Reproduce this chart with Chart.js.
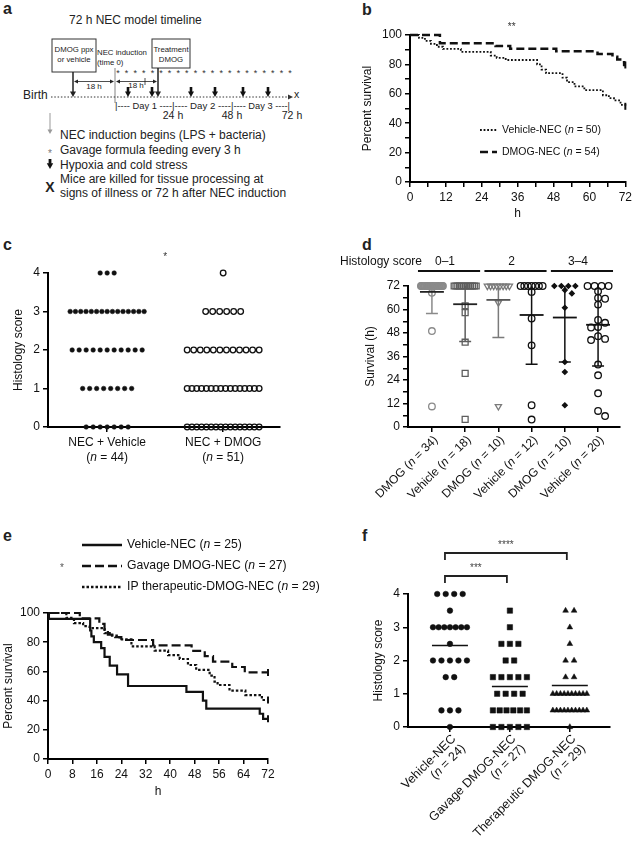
<!DOCTYPE html>
<html>
<head>
<meta charset="utf-8">
<script src="https://cdn.jsdelivr.net/npm/chart.js@4.4.1/dist/chart.umd.min.js"></script>
<style>
  body { margin: 0; background: #fff; width: 635px; height: 850px; position: relative; overflow: hidden; }
  canvas, svg { position: absolute; }
</style>
</head>
<body>
<svg id="art" width="635" height="850" style="left:0;top:0" font-family="Liberation Sans, Arial, sans-serif"></svg>
<script>
// ---- data ----
// b: Kaplan-Meier, time (h) and percent survival
const bVehT = [0, 3, 5, 7, 9, 11, 17, 27, 29, 32, 42.5, 44, 45.5, 51, 52.5, 55, 58.3, 64.5, 66.5, 68.2, 70.4, 72];
const bVehS = [100, 98, 96, 94, 92, 90.5, 88.5, 86, 84.5, 83, 80, 76.5, 74, 71, 68, 65, 62.5, 59, 57, 55.5, 52.5, 51.5];
const bDmogT = [0, 10, 28.6, 33.5, 48.9, 62.7, 67.7, 69.3, 71, 71.6, 72];
const bDmogS = [100, 94.4, 92.6, 90.7, 88.9, 87, 85.2, 83.3, 81.5, 79.6, 79.6];
const bLabels = ["Vehicle-NEC", "DMOG-NEC"];
const bN = [50, 54];

// c: number of pups per histology score (0..4)
const cScores = [0, 1, 2, 3, 4];
const cVehicleCounts = [7, 8, 11, 15, 3];
const cDmogCounts = [16, 16, 12, 6, 1];
const cLabels = ["NEC + Vehicle", "NEC + DMOG"];
const cN = [44, 51];

// d: survival (h) by histology score group
const dGroups = ["DMOG", "Vehicle", "DMOG", "Vehicle", "DMOG", "Vehicle"];
const dN = [34, 18, 10, 12, 10, 20];
const dAt72 = [31, 13, 8, 7, 4, 4];
const dOther = [
  [68.5, 49, 10.5],
  [61.9, 58.4, 43.3, 27.4, 3.9],
  [63.5, 10.5],
  [69, 55.4, 41.7, 11.1, 3.8],
  [69.9, 68.2, 60.9, 33.2, 28.1, 11.1],
  [69.3, 65.9, 65.5, 62.5, 54.7, 53.2, 51.1, 50.8, 46.4, 45.0, 44.4, 31.9, 26.4, 17.2, 8.2, 5.6]
];
const dMean = [69, 62.7, 64.9, 57.2, 55.9, 52.2];
const dSd = [11, 19, 19.2, 25.2, 22.7, 21];
const dScoreGroups = ["0\u20131", "2", "3\u20134"];

// e: Kaplan-Meier
const eVehT = [0, 0.3, 13.8, 14.2, 15, 17.4, 18.5, 20.2, 22.6, 26.2, 45.3, 50.7, 51.8, 69.3, 70.4, 72];
const eVehS = [100, 96, 88, 84, 80, 76, 70, 64, 58, 50, 46, 40, 34.5, 31, 27.5, 27.5];
const eGavT = [0, 10.4, 16.8, 18.5, 19.6, 22, 24, 34.4, 47, 51.3, 54, 60.3, 64.4, 72];
const eGavS = [100, 96.3, 92.6, 88.9, 85.2, 83.5, 81.5, 77.8, 74.1, 70.4, 66.7, 63, 59.3, 59.3];
const eIpT = [0, 6, 8.5, 11.5, 13.6, 18.5, 20.2, 23.4, 27.3, 34.9, 39.3, 43.1, 45.8, 48.5, 52.9, 54.5, 55.5, 59.4, 64.6, 70, 72];
const eIpS = [100, 96.6, 93.1, 91, 89.7, 86.2, 84.5, 82, 77.2, 74.2, 71.2, 68.5, 64.4, 61, 57.1, 53, 50.7, 46.8, 43.8, 40.4, 40.4];
const eLabels = ["Vehicle-NEC", "Gavage DMOG-NEC", "IP therapeutic-DMOG-NEC"];
const eN = [25, 27, 29];

// f: counts per histology score (0..4 by 0.5)
const fScores = [0, 0.5, 1, 1.5, 2, 2.5, 3, 3.5, 4];
const fVehicleCounts = [1, 3, 0, 2, 5, 1, 7, 1, 4];
const fGavageCounts = [5, 6, 4, 5, 2, 3, 1, 1, 0];
const fTherapCounts = [1, 10, 10, 2, 2, 1, 1, 2, 0];
const fMean = [2.45, 1.22, 1.25];
const fLabels = ["Vehicle-NEC", "Gavage DMOG-NEC", "Therapeutic DMOG-NEC"];
const fN = [24, 27, 29];

// ---- helpers ----
const FONT = '"Liberation Sans", Arial, sans-serif';
Chart.defaults.font.family = FONT;
Chart.defaults.font.size = 12;
Chart.defaults.color = "#111";
Chart.defaults.animation = false;
Chart.defaults.events = [];
Chart.defaults.plugins.legend.display = false;
Chart.defaults.plugins.tooltip.enabled = false;

function makeCanvas(cv) {
  const c = document.createElement("canvas");
  c.width = cv.w; c.height = cv.h;
  c.style.left = cv.x + "px"; c.style.top = cv.y + "px";
  c.style.width = cv.w + "px"; c.style.height = cv.h + "px";
  document.body.appendChild(c);
  return c;
}

function layout(cv, plot, yW, xH) {
  return {
    autoPadding: false,
    padding: { left: plot.l - cv.x - yW, top: plot.t - cv.y, right: cv.x + cv.w - plot.r, bottom: cv.y + cv.h - plot.b - xH }
  };
}

function axis(o) {
  const s = {
    type: "linear", min: o.min, max: o.max,
    border: { color: "#000", width: 2 },
    grid: { drawOnChartArea: false, color: "#000", lineWidth: 1.5, tickLength: 5 },
    ticks: { color: "#111", font: { size: 12 }, padding: 3, stepSize: o.step, autoSkip: false, maxRotation: 0,
      callback: o.label || (v => v) },
    afterFit: o.w ? (sc => { sc.width = o.w; }) : (sc => { sc.height = o.h; })
  };
  if (o.title) s.title = { display: true, text: o.title, color: "#111", font: { size: 12 }, padding: 0 };
  if (o.at) s.afterBuildTicks = sc => { sc.ticks = o.at.map(v => ({ value: v })); };
  return s;
}

// parts alternate normal / italic
function rich(ctx, parts, x, y, size, align) {
  const fonts = parts.map((p, i) => (i % 2 ? "italic " : "") + size + "px " + FONT);
  let w = 0;
  const ws = parts.map((p, i) => { ctx.font = fonts[i]; const m = ctx.measureText(p).width; w += m; return m; });
  let cx = align === "center" ? x - w / 2 : align === "right" ? x - w : x;
  ctx.textAlign = "left";
  parts.forEach((p, i) => { ctx.font = fonts[i]; ctx.fillText(p, cx, y); cx += ws[i]; });
}

function expand(scores, counts) {
  let out = [];
  scores.forEach((s, i) => { for (let k = 0; k < counts[i]; k++) out.push(s); });
  return out;
}

// simple beeswarm: equal values in a row, singles nudged sideways when they collide
function swarm(vals, center, pxX, pxY, gap, maxW) {
  const pts = [];
  const counts = {};
  vals.forEach(v => { counts[v] = (counts[v] || 0) + 1; });
  const singles = [];
  Object.keys(counts).forEach(k => {
    const n = counts[k], v = +k;
    if (n === 1) { singles.push(v); return; }
    const step = Math.min(gap, maxW / (n - 1));
    for (let i = 0; i < n; i++) pts.push({ x: center + (i - (n - 1) / 2) * step / pxX, y: v });
  });
  singles.sort((a, b) => b - a).forEach(v => {
    const cands = [0, 0.5, -0.5, 1, -1, 1.5, -1.5];
    for (const c of cands) {
      const x = center + c * gap / pxX;
      const hit = pts.some(p => Math.hypot((p.x - x) * pxX, (p.y - v) * pxY) < gap * 0.9);
      if (!hit) { pts.push({ x, y: v }); return; }
    }
    pts.push({ x: center, y: v });
  });
  return pts;
}

function kmSet(ts, ss, dash, width) {
  const last = ts.length - 1;
  return {
    type: "line", data: ts.map((t, i) => ({ x: t, y: ss[i] })), stepped: true,
    borderColor: "#111", borderWidth: width, borderDash: dash, borderCapStyle: "butt", fill: false,
    pointRadius: c => (c.dataIndex === last ? 3.5 : 0), pointStyle: "line", rotation: 90,
    pointBorderColor: "#111", pointBorderWidth: 2, clip: false
  };
}

// ---- panel a (timeline drawing) and panel letters ----
const NS = "http://www.w3.org/2000/svg";
const art = document.getElementById("art");
function el(tag, attrs, text) {
  const e = document.createElementNS(NS, tag);
  for (const k in attrs) e.setAttribute(k, attrs[k]);
  if (text != null) e.textContent = text;
  art.appendChild(e);
  return e;
}
const T = (x, y, s, txt, o) => el("text", Object.assign({ x, y, "font-size": s, fill: "#222" }, o || {}), txt);
const L = (x1, y1, x2, y2, o) => el("line", Object.assign({ x1, y1, x2, y2, stroke: "#222", "stroke-width": 1 }, o || {}));
function down(x, y1, y2, col, w, hw) {
  L(x, y1, x, y2 - hw * 1.6, { stroke: col, "stroke-width": w });
  el("polygon", { points: `${x - hw},${y2 - hw * 1.8} ${x + hw},${y2 - hw * 1.8} ${x},${y2}`, fill: col });
}
function harrow(x1, x2, y) {
  L(x1 + 2, y, x2 - 2, y, { "stroke-width": 0.8 });
  el("polygon", { points: `${x1},${y} ${x1 + 4},${y - 2} ${x1 + 4},${y + 2}`, fill: "#222" });
  el("polygon", { points: `${x2},${y} ${x2 - 4},${y - 2} ${x2 - 4},${y + 2}`, fill: "#222" });
}
const mid = { "text-anchor": "middle" };
const bold = { "font-weight": "bold" };

T(3, 14, 16, "a", bold);
T(69, 24, 12, "72 h NEC model timeline");
el("rect", { x: 52, y: 39, width: 44, height: 33, fill: "none", stroke: "#333", "stroke-width": 1 });
T(74, 52, 7.8, "DMOG ppx", mid);
T(74, 61.5, 7.8, "or vehicle", mid);
T(97, 55, 7.8, "NEC induction");
T(97, 64.5, 7.8, "(time 0)");
el("rect", { x: 152, y: 39, width: 38, height: 29, fill: "none", stroke: "#333", "stroke-width": 1 });
T(171, 51.5, 7.8, "Treatment", mid);
T(171, 62, 7.8, "DMOG", mid);
down(73, 72, 97, "#222", 1.5, 3);
down(158, 68, 97, "#222", 1.5, 3);
for (let i = 0; i < 21; i++) T(118 + i * 8.6, 76, 9, "*", Object.assign({ fill: "#333" }, mid));
L(115, 68, 115, 103, { stroke: "#666", "stroke-width": 0.8 });
harrow(74, 114, 81.5);
T(94, 89, 8, "18 h", mid);
harrow(116, 157, 81.5);
T(136, 88, 8, "18 h", mid);
L(145, 78, 145, 85, { "stroke-width": 0.8 });
T(23, 99, 12, "Birth");
L(51, 97, 289, 97, { "stroke-dasharray": "1.5 1.8", stroke: "#333" });
el("polygon", { points: "288,94.5 293,97 288,99.5", fill: "#333" });
T(294, 98, 10.5, "x");
[128, 152, 191, 215, 243, 268].forEach(x => down(x, 87, 97, "#111", 2.6, 3));
T(115, 109, 9.5, "|---- Day 1 ----", { textLength: 57, lengthAdjust: "spacingAndGlyphs" });
T(172, 109, 9.5, "|---- Day 2 ----", { textLength: 59, lengthAdjust: "spacingAndGlyphs" });
T(231, 109, 9.5, "|---- Day 3 ----|", { textLength: 59, lengthAdjust: "spacingAndGlyphs" });
T(173, 119, 10.5, "24 h", mid);
T(232, 119, 10.5, "48 h", mid);
T(292, 119, 10.5, "72 h", mid);
down(50, 113, 134, "#999", 1, 2.5);
T(60, 139, 12, "NEC induction begins (LPS + bacteria)");
T(50, 157, 10, "*", Object.assign({ fill: "#777" }, mid));
T(60, 154, 12, "Gavage formula feeding every 3 h");
down(50, 159, 169, "#111", 2.8, 3.2);
T(60, 168.5, 12, "Hypoxia and cold stress");
T(50, 192, 14, "X", Object.assign({}, bold, mid));
T(60, 182.5, 12, "Mice are killed for tissue processing at");
T(60, 197, 12, "signs of illness or 72 h after NEC induction");

T(362, 15, 16, "b", bold);
T(3, 250, 16, "c", bold);
T(362, 250, 16, "d", bold);
T(3, 541, 16, "e", bold);
T(362, 541, 16, "f", bold);

// ---- panel b ----
{
  const cv = { x: 320, y: 15, w: 315, h: 212 };
  const plot = { l: 410, t: 35, r: 627, b: 182 };
  const extras = {
    id: "bExtras",
    afterDraw(chart) {
      const { ctx, scales: { x }, chartArea: a } = chart;
      ctx.save();
      ctx.fillStyle = "#333"; ctx.textBaseline = "middle";
      ctx.font = "10px " + FONT; ctx.textAlign = "center";
      ctx.fillText("**", x.getPixelForValue(34), a.top - 8);
      chart.data.datasets.forEach((ds, i) => {
        const ly = a.top + 95 + i * 22;
        ctx.strokeStyle = "#111"; ctx.lineWidth = ds.borderWidth; ctx.setLineDash(ds.borderDash);
        ctx.beginPath(); ctx.moveTo(a.left + 70, ly); ctx.lineTo(a.left + 87, ly); ctx.stroke();
        ctx.fillStyle = "#111";
        rich(ctx, [bLabels[i] + " (", "n", " = " + bN[i] + ")"], a.left + 92, ly, 10.5, "left");
      });
      ctx.restore();
    }
  };
  new Chart(makeCanvas(cv), {
    type: "line",
    data: { datasets: [kmSet(bVehT, bVehS, [1.8, 1.8], 1.8), kmSet(bDmogT, bDmogS, [8, 4], 2.5)] },
    options: {
      responsive: false, devicePixelRatio: 1,
      layout: layout(cv, plot, 50, 39),
      scales: {
        x: axis({ min: 0, max: 72, step: 6, h: 39, title: "h", label: v => (v % 12 === 0 ? v : "") }),
        y: axis({ min: 0, max: 100, step: 10, w: 50, title: "Percent survival", label: v => (v % 20 === 0 ? v : "") })
      }
    },
    plugins: [extras]
  });
}

// ---- panel c ----
{
  const cv = { x: 0, y: 230, w: 320, h: 240 };
  const plot = { l: 48, t: 273, r: 280, b: 427 };
  const extras = {
    id: "cExtras",
    afterDraw(chart) {
      const { ctx, scales: { x }, chartArea: a } = chart;
      ctx.save();
      ctx.fillStyle = "#333"; ctx.textBaseline = "middle"; ctx.textAlign = "center";
      ctx.font = "10px " + FONT;
      ctx.fillText("*", x.getPixelForValue(1.5), a.top - 16);
      ctx.fillStyle = "#111";
      cLabels.forEach((lab, i) => {
        const px = x.getPixelForValue(i + 1);
        rich(ctx, [lab], px, a.bottom + 16, 12, "center");
        rich(ctx, ["(", "n", " = " + cN[i] + ")"], px, a.bottom + 31, 12, "center");
      });
      ctx.restore();
    }
  };
  new Chart(makeCanvas(cv), {
    type: "scatter",
    data: {
      datasets: [
        { data: swarm(expand(cScores, cVehicleCounts), 1, 116, 38.5, 7, 74), pointRadius: 2.3,
          backgroundColor: "#111", borderColor: "#111", borderWidth: 0.5, clip: false },
        { data: swarm(expand(cScores, cDmogCounts), 2, 116, 38.5, 7, 72), pointRadius: 2.8,
          backgroundColor: "rgba(0,0,0,0)", borderColor: "#111", borderWidth: 1.3, clip: false }
      ]
    },
    options: {
      responsive: false, devicePixelRatio: 1,
      layout: layout(cv, plot, 37, 40),
      scales: {
        x: axis({ min: 0.49, max: 2.49, h: 40, at: [1, 2], label: () => "" }),
        y: axis({ min: 0, max: 4, step: 1, w: 37, title: "Histology score" })
      }
    },
    plugins: [extras]
  });
}

// ---- panel d ----
{
  const cv = { x: 320, y: 230, w: 315, h: 282 };
  const plot = { l: 408, t: 286, r: 620, b: 427 };
  const cols = ["#8a8a8a", "#5e5e5e", "#7a7a7a", "#111", "#111", "#111"];
  const meanCols = ["#222", "#222", "#555", "#111", "#111", "#111"];
  const styles = ["circle", "rect", "triangle", "circle", "rectRot", "circle"];
  const radii = [3.3, 4.2, 3.6, 3.3, 2.4, 3.3];
  const filled = [false, false, false, false, true, false];
  const extras = {
    id: "dExtras",
    afterDatasetsDraw(chart) {
      const { ctx, scales: { x, y } } = chart;
      ctx.save();
      dMean.forEach((m, i) => {
        const cx = x.getPixelForValue(i);
        const lo = y.getPixelForValue(m - dSd[i]);
        const hi = y.getPixelForValue(Math.min(72, m + dSd[i]));
        const cap = x.getPixelForValue(i + 0.18) - cx;
        const half = x.getPixelForValue(i + 0.36) - cx;
        ctx.strokeStyle = cols[i]; ctx.lineWidth = 1.5;
        ctx.beginPath();
        ctx.moveTo(cx, lo); ctx.lineTo(cx, hi);
        ctx.moveTo(cx - cap, lo); ctx.lineTo(cx + cap, lo);
        ctx.stroke();
        ctx.strokeStyle = meanCols[i]; ctx.lineWidth = 1.8;
        const py = y.getPixelForValue(m);
        ctx.beginPath(); ctx.moveTo(cx - half, py); ctx.lineTo(cx + half, py); ctx.stroke();
      });
      ctx.restore();
    },
    afterDraw(chart) {
      const { ctx, scales: { x }, chartArea: a } = chart;
      ctx.save();
      ctx.fillStyle = "#111"; ctx.textBaseline = "middle";
      rich(ctx, ["Histology score"], 20, a.top - 24, 12, "left");
      dScoreGroups.forEach((g, k) => {
        const x0 = x.getPixelForValue(2 * k - 0.42), x1 = x.getPixelForValue(2 * k + 1.45);
        ctx.strokeStyle = "#111"; ctx.lineWidth = 2;
        ctx.beginPath(); ctx.moveTo(x0, a.top - 15); ctx.lineTo(x1, a.top - 15); ctx.stroke();
        rich(ctx, [g], (x0 + x1) / 2 - 4, a.top - 24, 12, "center");
      });
      dGroups.forEach((g, i) => {
        ctx.save();
        ctx.translate(x.getPixelForValue(i) + 4, a.bottom + 11);
        ctx.rotate(-Math.PI / 4);
        rich(ctx, [g + " (", "n", " = " + dN[i] + ")"], 0, 0, 12, "right");
        ctx.restore();
      });
      ctx.restore();
    }
  };
  new Chart(makeCanvas(cv), {
    type: "scatter",
    data: {
      datasets: dGroups.map((g, i) => ({
        data: swarm(Array(dAt72[i]).fill(72).concat(dOther[i]), i, 33.2, 1.958, 7, 22),
        pointStyle: styles[i], pointRadius: radii[i], rotation: styles[i] === "triangle" ? 180 : 0,
        borderColor: cols[i], backgroundColor: filled[i] ? cols[i] : "rgba(0,0,0,0)",
        borderWidth: 1.3, clip: false
      }))
    },
    options: {
      responsive: false, devicePixelRatio: 1,
      layout: layout(cv, plot, 45, 80),
      scales: {
        x: axis({ min: -0.72, max: 5.66, h: 80, at: [0, 1, 2, 3, 4, 5], label: () => "" }),
        y: axis({ min: 0, max: 72, step: 6, w: 45, title: "Survival (h)", label: v => (v % 12 === 0 ? v : "") })
      }
    },
    plugins: [extras]
  });
}

// ---- panel e ----
{
  const cv = { x: 0, y: 525, w: 330, h: 280 };
  const plot = { l: 48, t: 613, r: 268, b: 759 };
  const extras = {
    id: "eExtras",
    afterDraw(chart) {
      const { ctx, chartArea: a } = chart;
      ctx.save();
      ctx.textBaseline = "middle";
      ctx.fillStyle = "#555"; ctx.textAlign = "center"; ctx.font = "10px " + FONT;
      ctx.fillText("*", a.left + 14, a.top - 45);
      chart.data.datasets.forEach((ds, i) => {
        const ly = a.top - 68 + i * 21;
        ctx.strokeStyle = "#111"; ctx.lineWidth = 2.4; ctx.setLineDash(ds.borderDash);
        ctx.beginPath(); ctx.moveTo(a.left + 34, ly); ctx.lineTo(a.left + 74, ly); ctx.stroke();
        ctx.fillStyle = "#111";
        rich(ctx, [eLabels[i] + " (", "n", " = " + eN[i] + ")"], a.left + 79, ly, 12.2, "left");
      });
      ctx.restore();
    }
  };
  new Chart(makeCanvas(cv), {
    type: "line",
    data: { datasets: [kmSet(eVehT, eVehS, [], 2.2), kmSet(eGavT, eGavS, [9, 4], 2.2), kmSet(eIpT, eIpS, [2.5, 2], 2.2)] },
    options: {
      responsive: false, devicePixelRatio: 1,
      layout: layout(cv, plot, 47, 40),
      scales: {
        x: axis({ min: 0, max: 72, step: 8, h: 40, title: "h" }),
        y: axis({ min: 0, max: 100, step: 20, w: 47, title: "Percent survival" })
      }
    },
    plugins: [extras]
  });
}

// ---- panel f ----
{
  const cv = { x: 320, y: 528, w: 315, h: 322 };
  const plot = { l: 408, t: 594, r: 610, b: 727 };
  const extras = {
    id: "fExtras",
    afterDatasetsDraw(chart) {
      const { ctx, scales: { x, y } } = chart;
      ctx.save();
      ctx.strokeStyle = "#111"; ctx.lineWidth = 1.5;
      fMean.forEach((m, i) => {
        const py = y.getPixelForValue(m);
        ctx.beginPath(); ctx.moveTo(x.getPixelForValue(i - 0.3), py); ctx.lineTo(x.getPixelForValue(i + 0.3), py); ctx.stroke();
      });
      ctx.restore();
    },
    afterDraw(chart) {
      const { ctx, scales: { x }, chartArea: a } = chart;
      ctx.save();
      const bracket = (i0, i1, lineY, stars) => {
        const x0 = x.getPixelForValue(i0) - 5, x1 = x.getPixelForValue(i1) - 3;
        ctx.strokeStyle = "#222"; ctx.lineWidth = 1.8;
        ctx.beginPath();
        ctx.moveTo(x0, lineY + 7); ctx.lineTo(x0, lineY); ctx.lineTo(x1, lineY); ctx.lineTo(x1, lineY + 7);
        ctx.stroke();
        ctx.fillStyle = "#444"; ctx.font = "10px " + FONT; ctx.textAlign = "center"; ctx.textBaseline = "middle";
        ctx.fillText(stars, (x0 + x1) / 2, lineY - 8);
      };
      bracket(0, 2, a.top - 41, "****");
      bracket(0, 1, a.top - 18, "***");
      ctx.fillStyle = "#111"; ctx.textBaseline = "middle";
      fLabels.forEach((lab, i) => {
        ctx.save();
        ctx.translate(x.getPixelForValue(i) + 4, a.bottom + 10);
        ctx.rotate(-Math.PI / 4);
        rich(ctx, [lab], 0, 0, 12.5, "right");
        rich(ctx, ["(", "n", " = " + fN[i] + ")"], 0, 13.5, 12.5, "right");
        ctx.restore();
      });
      ctx.restore();
    }
  };
  const fSet = (counts, i, style, r) => ({
    data: swarm(expand(fScores, counts), i, 60, 33.2, 8.5, 34),
    pointStyle: style, pointRadius: r, backgroundColor: "#111", borderColor: "#111", borderWidth: 0.5, clip: false
  });
  new Chart(makeCanvas(cv), {
    type: "scatter",
    data: { datasets: [fSet(fVehicleCounts, 0, "circle", 2.8), fSet(fGavageCounts, 1, "rect", 3.8), fSet(fTherapCounts, 2, "triangle", 3.3)] },
    options: {
      responsive: false, devicePixelRatio: 1,
      layout: layout(cv, plot, 37, 120),
      scales: {
        x: axis({ min: -0.7, max: 2.67, h: 120, at: [0, 1, 2], label: () => "" }),
        y: axis({ min: 0, max: 4, step: 1, w: 37, title: "Histology score" })
      }
    },
    plugins: [extras]
  });
}
</script>
</body>
</html>
